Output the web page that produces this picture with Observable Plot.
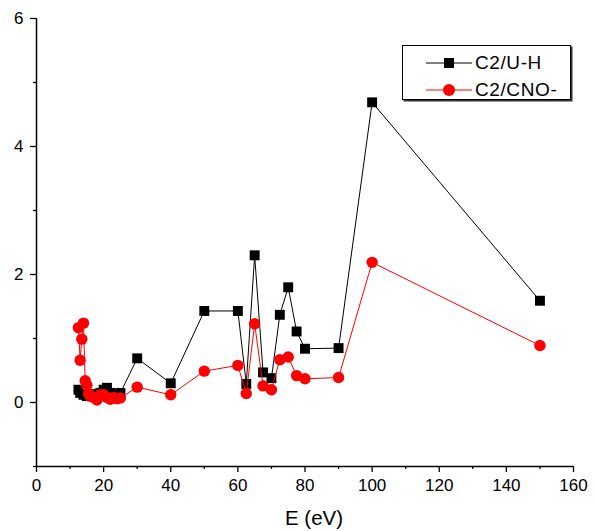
<!DOCTYPE html>
<html>
<head>
<meta charset="utf-8">
<script src="https://cdn.jsdelivr.net/npm/d3@7"></script>
<script src="https://cdn.jsdelivr.net/npm/@observablehq/plot@0.6"></script>
<style>
  body { margin: 0; background: #fff; font-family: "Liberation Sans", Arial, sans-serif; }
  #wrap { position: relative; width: 594px; height: 531px; }
  #legend {
    position: absolute; left: 402px; top: 45px; width: 167px; height: 53px;
    border: 1px solid #000; background: #fff; box-shadow: 1.5px 1.5px 0 #333;
    font-size: 19px; letter-spacing: 0.6px; color: #000;
  }
  #legend .row { position: absolute; left: 0; height: 22px; display: flex; align-items: center; white-space: nowrap; }
  #legend svg { margin-left: 23px; margin-right: 3px; }
</style>
</head>
<body>
<div id="wrap">
  <div id="chart"></div>
  <div id="legend"></div>
</div>
<script>
// Energy (eV) for the C2/U-H series and its ratio values
const energyUH = [12.5, 13, 14, 15, 16, 17, 18, 19, 20, 21, 22, 23, 25, 30, 40, 50, 60, 62.5, 65, 67.5, 70, 72.5, 75, 77.5, 80, 90, 100, 150];
const ratioUH  = [0.2, 0.15, 0.12, 0.1, 0.12, 0.13, 0.1, 0.15, 0.2, 0.23, 0.15, 0.12, 0.15, 0.69, 0.3, 1.43, 1.43, 0.29, 2.3, 0.47, 0.38, 1.37, 1.8, 1.11, 0.84, 0.85, 4.69, 1.59];

// Energy (eV) for the C2/CNO- series and its ratio values
const energyCNO = [12.5, 13, 13.5, 14, 14.5, 15, 15.5, 16, 17, 18, 19, 20, 21, 22, 23, 24, 25, 30, 40, 50, 60, 62.5, 65, 67.5, 70, 72.5, 75, 77.5, 80, 90, 100, 150];
const ratioCNO  = [1.17, 0.66, 0.99, 1.24, 0.34, 0.27, 0.14, 0.1, 0.08, 0.04, 0.12, 0.12, 0.08, 0.05, 0.08, 0.06, 0.07, 0.24, 0.12, 0.49, 0.58, 0.14, 1.23, 0.26, 0.2, 0.67, 0.71, 0.42, 0.37, 0.39, 2.19, 0.89];

const seriesNames = ["C2/U-H", "C2/CNO-"];
const seriesColors = ["#000000", "#ff0000"];

const xMajor = [0, 20, 40, 60, 80, 100, 120, 140, 160];
const xMinor = [10, 30, 50, 70, 90, 110, 130, 150];
const yMajor = [0, 2, 4, 6];
const yMinor = [-1, 1, 3, 5];

const uh = energyUH.map((e, i) => ({E: e, v: ratioUH[i]}));
const cno = energyCNO.map((e, i) => ({E: e, v: ratioCNO[i]}));

const chart = Plot.plot({
  width: 594,
  height: 531,
  marginLeft: 36,
  marginRight: 21,
  marginTop: 18,
  marginBottom: 65,
  style: {fontFamily: "Liberation Sans, Arial, sans-serif", fontSize: "17px", color: "#000", background: "#fff"},
  x: {domain: [0, 160]},
  y: {domain: [-1, 6]},
  marks: [
    Plot.axisX({ticks: xMajor, tickSize: 6, tickPadding: 6, fontSize: 17, label: null, tickFormat: d => d, strokeWidth: 1.3}),
    Plot.axisX({ticks: xMinor, tickSize: 3, tickFormat: () => "", label: null, strokeWidth: 1.3}),
    Plot.axisY({ticks: yMajor, tickSize: 6, tickPadding: 7, fontSize: 17, label: null, tickFormat: d => d, strokeWidth: 1.3}),
    Plot.axisY({ticks: yMinor, tickSize: 3, tickFormat: () => "", label: null, strokeWidth: 1.3}),
    Plot.ruleX([0], {stroke: "#000", strokeWidth: 1.5}),
    Plot.ruleY([-1], {stroke: "#000", strokeWidth: 1.5}),
    Plot.text(["E (eV)"], {frameAnchor: "bottom", dy: 58, dx: 9, fontSize: 20.5}),
    Plot.line(uh, {x: "E", y: "v", stroke: seriesColors[0], strokeWidth: 1}),
    Plot.dot(uh, {x: "E", y: "v", symbol: "square", r: 5.6, fill: seriesColors[0], stroke: "none"}),
    Plot.line(cno, {x: "E", y: "v", stroke: seriesColors[1], strokeWidth: 1}),
    Plot.dot(cno, {x: "E", y: "v", symbol: "circle", r: 5.7, fill: seriesColors[1], stroke: "none"})
  ]
});
document.getElementById("chart").appendChild(chart);

// Legend box with line-and-marker swatches
const legend = document.getElementById("legend");
seriesNames.forEach((name, i) => {
  const row = document.createElement("div");
  row.className = "row";
  row.style.top = (6 + i * 27) + "px";
  const marker = i === 0
    ? `<rect x="18" y="6" width="10" height="10" fill="${seriesColors[i]}"/>`
    : `<circle cx="23" cy="11" r="6" fill="${seriesColors[i]}"/>`;
  row.innerHTML = `<svg width="46" height="22"><line x1="0" x2="46" y1="11" y2="11" stroke="${seriesColors[i]}" stroke-width="1"/>${marker}</svg><span>${name}</span>`;
  legend.appendChild(row);
});
</script>
</body>
</html>
